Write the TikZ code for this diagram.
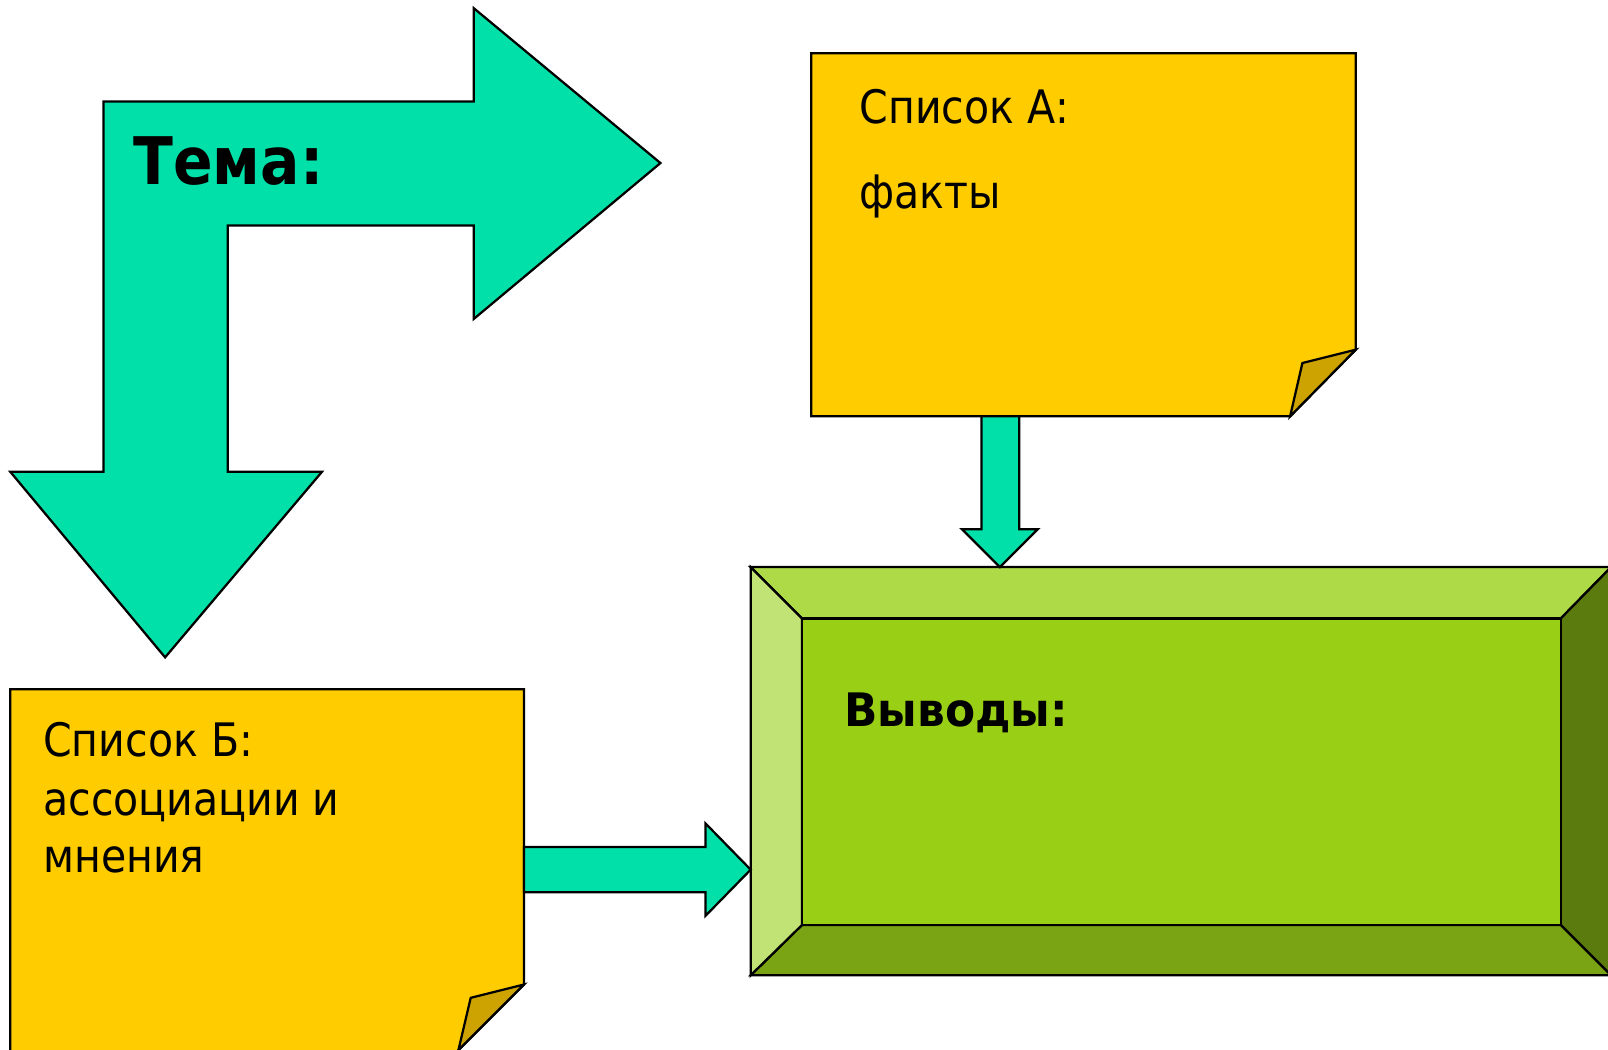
\documentclass[tikz,border=0pt]{standalone}
\usepackage{fontspec}
\setmainfont{DejaVu Sans}[FakeStretch=0.89]
\newfontfamily\widebold{DejaVu Sans Bold}[FakeStretch=0.95]
\definecolor{teal}{HTML}{00E0A8}
\definecolor{notey}{HTML}{FFCC00}
\definecolor{foldy}{HTML}{CCA300}
\definecolor{bvtop}{HTML}{AEDA48}
\definecolor{bvleft}{HTML}{C1E274}
\definecolor{bvmain}{HTML}{99CF15}
\definecolor{bvright}{HTML}{5C7B0F}
\definecolor{bvbottom}{HTML}{7BA414}
\tikzset{
  outl/.style={draw=black, line width=2.2pt, line join=miter},
  blockarrow/.style={outl, fill=teal},
  note/.style={outl, fill=notey},
  fold/.style={outl, fill=foldy},
  txt/.style={anchor=base west, inner sep=0pt, font=\fontsize{45}{54}\selectfont},
  btxt/.style={anchor=base west, inner sep=0pt, font=\bfseries\fontsize{45}{54}\selectfont}
}
\begin{document}
\begin{tikzpicture}[x=1pt, y=-1pt]
\useasboundingbox (0,0) rectangle (1568,1023);
\clip (0,0) rectangle (1568,1023);
% bent arrow
\draw[blockarrow] (101,99) -- (462,99) -- (462,8) -- (644,159) -- (462,311) -- (462,220)
  -- (222,220) -- (222,460) -- (314,460) -- (161,641) -- (10,460) -- (101,460) -- cycle;
\node[btxt, font=\bfseries\fontsize{64}{70}\selectfont] (tema) at (130,180) {Тема:};
% note A
\draw[note] (791,52) -- (1322,52) -- (1322,341) -- (1258,406) -- (791,406) -- cycle;
\draw[fold] (1322,341) -- (1270,354) -- (1258,406) -- cycle;
\node[txt] (spA) at (838,120) {Список А:};
\node[txt] (fakty) at (838,203) {факты};
% note B
\draw[note] (10,672) -- (511,672) -- (511,960) -- (447,1024) -- (447,1040) -- (10,1040) -- cycle;
\draw[fold] (511,960) -- (459,973) -- (447,1024) -- cycle;
\node[txt] (spB1) at (42,738) {Список Б:};
\node[txt] (spB2) at (42,795) {ассоциации и};
\node[txt] (spB3) at (42,851) {мнения};
% bevel box
\coordinate (o1) at (732,553); \coordinate (o2) at (1571,553);
\coordinate (o3) at (1571,951); \coordinate (o4) at (732,951);
\coordinate (i1) at (782,603); \coordinate (i2) at (1522,603);
\coordinate (i3) at (1522,902); \coordinate (i4) at (782,902);
\draw[outl, fill=bvtop] (o1) -- (o2) -- (i2) -- (i1) -- cycle;
\draw[outl, fill=bvright] (o2) -- (o3) -- (i3) -- (i2) -- cycle;
\draw[outl, fill=bvbottom] (o4) -- (o3) -- (i3) -- (i4) -- cycle;
\draw[outl, fill=bvleft] (o1) -- (i1) -- (i4) -- (o4) -- cycle;
\draw[outl, fill=bvmain] (i1) -- (i2) -- (i3) -- (i4) -- cycle;
\node[anchor=base west, inner sep=0pt, font=\widebold\fontsize{45}{54}\selectfont] (vyv) at (823,708) {Выводы:};
% arrow A -> box
\draw[blockarrow] (957,406) -- (994,406) -- (994,516) -- (1012,516) -- (975,553)
  -- (938,516) -- (957,516) -- cycle;
% arrow B -> box
\draw[blockarrow] (511,826) -- (688,826) -- (688,803) -- (732,848) -- (688,893)
  -- (688,870) -- (511,870) -- cycle;
\end{tikzpicture}
\end{document}
